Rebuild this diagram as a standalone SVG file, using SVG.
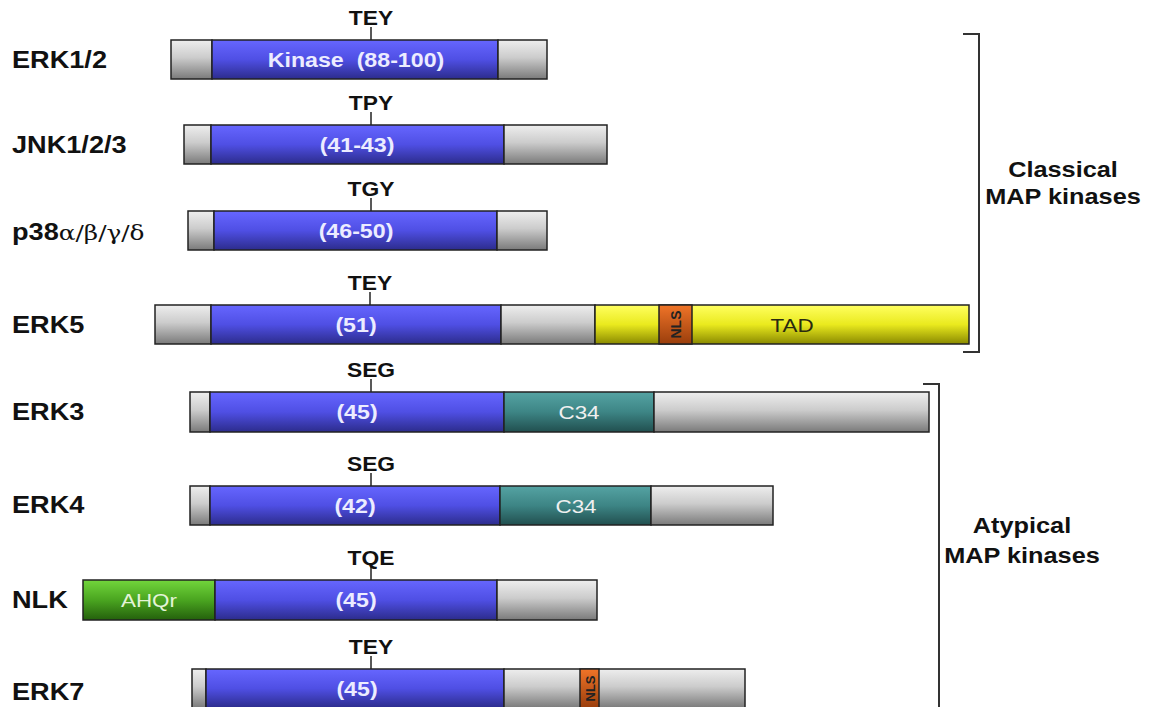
<svg xmlns="http://www.w3.org/2000/svg" width="1151" height="707" viewBox="0 0 1151 707">
<defs>
<linearGradient id="gGray" x1="0" y1="0" x2="0" y2="1"><stop offset="0" stop-color="#eeeeee"/><stop offset="0.45" stop-color="#cccccc"/><stop offset="1" stop-color="#7a7a7a"/></linearGradient>
<linearGradient id="gBlue" x1="0" y1="0" x2="0" y2="1"><stop offset="0" stop-color="#6666ff"/><stop offset="0.5" stop-color="#4f4fe4"/><stop offset="1" stop-color="#2c2c8c"/></linearGradient>
<linearGradient id="gTeal" x1="0" y1="0" x2="0" y2="1"><stop offset="0" stop-color="#55a3a3"/><stop offset="0.5" stop-color="#3d8585"/><stop offset="1" stop-color="#214f4f"/></linearGradient>
<linearGradient id="gGreen" x1="0" y1="0" x2="0" y2="1"><stop offset="0" stop-color="#72d63c"/><stop offset="0.5" stop-color="#4aa520"/><stop offset="1" stop-color="#24600c"/></linearGradient>
<linearGradient id="gYellow" x1="0" y1="0" x2="0" y2="1"><stop offset="0" stop-color="#ffff60"/><stop offset="0.5" stop-color="#eaea1e"/><stop offset="1" stop-color="#8a8a00"/></linearGradient>
<linearGradient id="gOrange" x1="0" y1="0" x2="0" y2="1"><stop offset="0" stop-color="#f07428"/><stop offset="1" stop-color="#9a3e0c"/></linearGradient>
</defs>
<style>
.seg{stroke:#222;stroke-width:1.5}
.gray{fill:url(#gGray)}
.blue{fill:url(#gBlue)}
.teal{fill:url(#gTeal)}
.green{fill:url(#gGreen)}
.yellow{fill:url(#gYellow)}
.orange{fill:url(#gOrange)}
text{font-family:"Liberation Sans",Arial,sans-serif}
.lab{font-size:23px;font-weight:bold;fill:#111}
.mot{font-size:20px;font-weight:bold;fill:#111;text-anchor:middle}
.num{font-size:20px;font-weight:bold;fill:#ececff;text-anchor:middle}
.dom{font-size:19px;fill:#f0f0f0;text-anchor:middle}
.nls{font-size:14px;font-weight:bold;fill:#222;text-anchor:middle}
.grp{font-size:22px;font-weight:bold;fill:#111;text-anchor:middle}
.tick{stroke:#222;stroke-width:1.5}
.br{fill:none;stroke:#333;stroke-width:2}
</style>

<g id="erk12">
<text class="lab" transform="translate(12,68) scale(1.18,1)">ERK1/2</text>
<rect class="seg gray" x="171" y="40" width="41" height="39"/>
<rect class="seg blue" x="212" y="40" width="286" height="39"/>
<rect class="seg gray" x="498" y="40" width="49" height="39"/>
<line class="tick" x1="371" y1="27" x2="371" y2="40"/>
<text class="mot" transform="translate(371,25) scale(1.14,1)">TEY</text>
<text class="num" transform="translate(356,67) scale(1.16,1)" xml:space="preserve">Kinase  (88-100)</text>
</g>

<g id="jnk">
<text class="lab" transform="translate(12,153) scale(1.18,1)">JNK1/2/3</text>
<rect class="seg gray" x="184" y="125" width="27" height="39"/>
<rect class="seg blue" x="211" y="125" width="293" height="39"/>
<rect class="seg gray" x="504" y="125" width="103" height="39"/>
<line class="tick" x1="371" y1="112" x2="371" y2="125"/>
<text class="mot" transform="translate(371,110) scale(1.14,1)">TPY</text>
<text class="num" transform="translate(357,152) scale(1.16,1)">(41-43)</text>
</g>

<g id="p38">
<text class="lab" transform="translate(12,240) scale(1.18,1)">p38<tspan font-family="'DejaVu Serif','Liberation Serif',serif" font-weight="normal" font-size="21">α/β/γ/δ</tspan></text>
<rect class="seg gray" x="188" y="211" width="26" height="39"/>
<rect class="seg blue" x="214" y="211" width="283" height="39"/>
<rect class="seg gray" x="497" y="211" width="50" height="39"/>
<line class="tick" x1="371" y1="198" x2="371" y2="211"/>
<text class="mot" transform="translate(371,196) scale(1.14,1)">TGY</text>
<text class="num" transform="translate(356,238) scale(1.16,1)">(46-50)</text>
</g>

<g id="erk5">
<text class="lab" transform="translate(12,333) scale(1.18,1)">ERK5</text>
<rect class="seg gray" x="155" y="305" width="56" height="39"/>
<rect class="seg blue" x="211" y="305" width="290" height="39"/>
<rect class="seg gray" x="501" y="305" width="94" height="39"/>
<rect class="seg yellow" x="595" y="305" width="374" height="39"/>
<rect class="seg orange" x="659" y="305" width="33" height="39"/>
<text class="nls" transform="translate(680.5,324.5) rotate(-90)">NLS</text>
<line class="tick" x1="370" y1="292" x2="370" y2="305"/>
<text class="mot" transform="translate(370,290) scale(1.14,1)">TEY</text>
<text class="num" transform="translate(356,332) scale(1.16,1)">(51)</text>
<text class="dom" style="fill:#2a2a10" transform="translate(792,332) scale(1.18,1)">TAD</text>
</g>

<g id="erk3">
<text class="lab" transform="translate(12,420) scale(1.18,1)">ERK3</text>
<rect class="seg gray" x="190" y="392" width="20" height="40"/>
<rect class="seg blue" x="210" y="392" width="294" height="40"/>
<rect class="seg teal" x="504" y="392" width="150" height="40"/>
<rect class="seg gray" x="654" y="392" width="275" height="40"/>
<line class="tick" x1="371" y1="379" x2="371" y2="392"/>
<text class="mot" transform="translate(371,377) scale(1.14,1)">SEG</text>
<text class="num" transform="translate(357,419) scale(1.16,1)">(45)</text>
<text class="dom" transform="translate(579,419) scale(1.18,1)">C34</text>
</g>

<g id="erk4">
<text class="lab" transform="translate(12,513) scale(1.18,1)">ERK4</text>
<rect class="seg gray" x="190" y="486" width="20" height="39"/>
<rect class="seg blue" x="210" y="486" width="290" height="39"/>
<rect class="seg teal" x="500" y="486" width="151" height="39"/>
<rect class="seg gray" x="651" y="486" width="122" height="39"/>
<line class="tick" x1="371" y1="473" x2="371" y2="486"/>
<text class="mot" transform="translate(371,471) scale(1.14,1)">SEG</text>
<text class="num" transform="translate(355,513) scale(1.16,1)">(42)</text>
<text class="dom" transform="translate(576,513) scale(1.18,1)">C34</text>
</g>

<g id="nlk">
<text class="lab" transform="translate(12,608) scale(1.18,1)">NLK</text>
<rect class="seg green" x="83" y="580" width="132" height="40"/>
<rect class="seg blue" x="215" y="580" width="282" height="40"/>
<rect class="seg gray" x="497" y="580" width="100" height="40"/>
<line class="tick" x1="371" y1="567" x2="371" y2="580"/>
<text class="mot" transform="translate(371,565) scale(1.14,1)">TQE</text>
<text class="num" transform="translate(356,607) scale(1.16,1)">(45)</text>
<text class="dom" style="fill:#e4f4d8" transform="translate(149,607) scale(1.18,1)">AHQr</text>
</g>

<g id="erk7">
<text class="lab" transform="translate(12,700) scale(1.18,1)">ERK7</text>
<rect class="seg gray" x="192" y="669" width="14" height="39"/>
<rect class="seg blue" x="206" y="669" width="298" height="39"/>
<rect class="seg gray" x="504" y="669" width="241" height="39"/>
<rect class="seg orange" x="580" y="669" width="19" height="39"/>
<text class="nls" style="font-size:13px" transform="translate(594.5,688.5) rotate(-90)">NLS</text>
<line class="tick" x1="371" y1="656" x2="371" y2="669"/>
<text class="mot" transform="translate(371,654) scale(1.14,1)">TEY</text>
<text class="num" transform="translate(357,696) scale(1.16,1)">(45)</text>
</g>

<g id="classical">
<path class="br" d="M963,34 H979 V352 H963"/>
<text class="grp" transform="translate(1063,177) scale(1.15,1)">Classical</text>
<text class="grp" transform="translate(1063,204) scale(1.15,1)">MAP kinases</text>
</g>

<g id="atypical">
<path class="br" d="M923,384 H939 V707"/>
<text class="grp" transform="translate(1022,533) scale(1.15,1)">Atypical</text>
<text class="grp" transform="translate(1022,563) scale(1.15,1)">MAP kinases</text>
</g>
</svg>
